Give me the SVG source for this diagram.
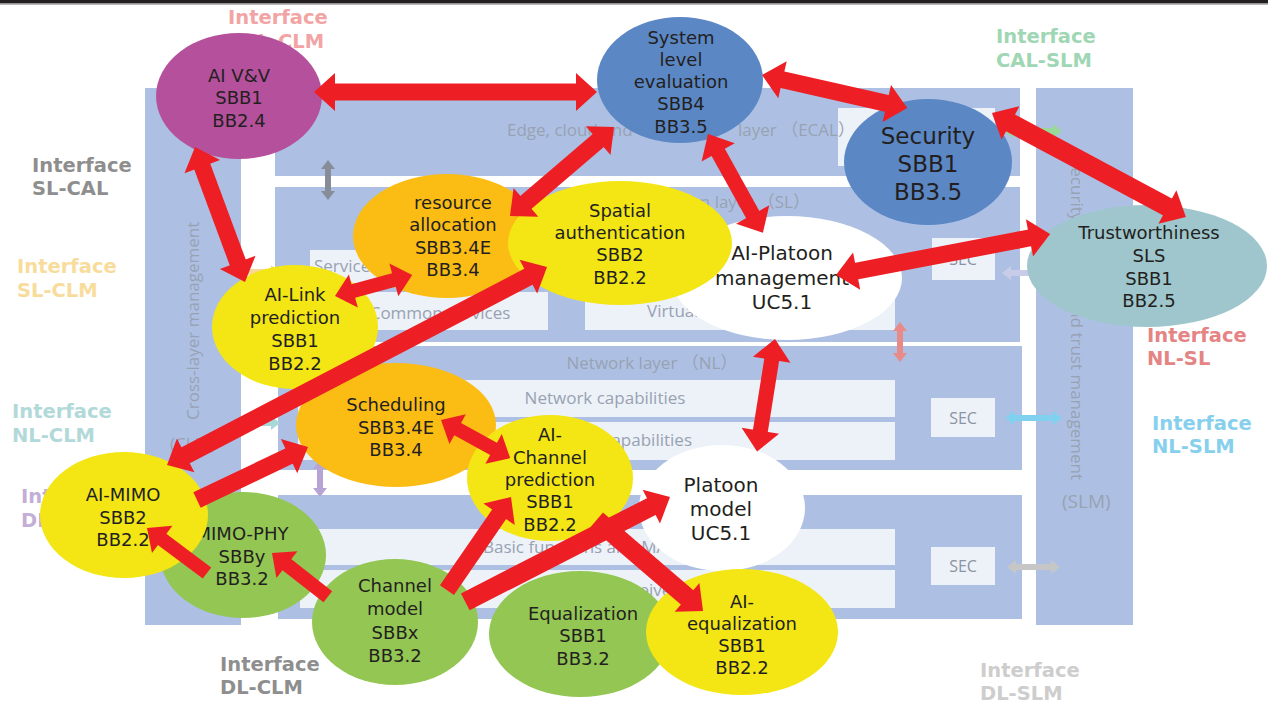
<svg xmlns="http://www.w3.org/2000/svg" width="1268" height="706" viewBox="0 0 1268 706">
<defs>
<style>
.layer{fill:#adc0e3}
.inner{fill:#edf1f8}
.ltxt{font-family:"Open Sans","Noto Sans CJK JP",sans-serif;font-size:17px;fill:#98a2b2}
.sec{font-family:"Open Sans",sans-serif;font-size:16px;fill:#8a94a4;text-anchor:middle}
.ifc{font-family:"DejaVu Sans",sans-serif;font-weight:bold;font-size:19.5px}
.node text{font-family:"DejaVu Sans",sans-serif;font-size:18px;fill:#231f20;text-anchor:middle}
.purple{fill:#b5519c}
.blue{fill:#5b87c5}
.teal{fill:#9ec6cc}
.yellow{fill:#f3e614}
.orange{fill:#fbbc14}
.green{fill:#93c653}
.white{fill:#ffffff}
.arw{fill:#ed1f24}
</style>
<path id="hd" d="M0,0 L21,-19 L21,19 Z"/>
<path id="hs" d="M0,0 L19,-17 L19,17 Z"/>
</defs>

<rect width="1268" height="706" fill="#ffffff"/>
<rect x="0" y="0" width="1268" height="3.5" fill="#231f20"/>
<rect x="0" y="3.5" width="1268" height="1.2" fill="#9a9a9a"/>

<!-- layered architecture background -->
<g id="layers">
  <rect class="layer" x="145" y="88" width="96" height="537"/>
  <rect class="layer" x="1036" y="88" width="97" height="537"/>
  <rect class="layer" x="275" y="88" width="745" height="88"/>
  <rect class="inner" x="838" y="108" width="157" height="58"/>
  <rect class="layer" x="275" y="187" width="745" height="155"/>
  <rect class="layer" x="278" y="346" width="744" height="124"/>
  <rect class="layer" x="278" y="495" width="744" height="124"/>

  <text class="ltxt" x="507" y="136">Edge, cloud and</text>
  <text class="ltxt" x="738" y="136">layer （ECAL）</text>
  <text class="ltxt" x="810" y="208" text-anchor="end">ion layer （SL）</text>
  <rect class="inner" x="310" y="250" width="238" height="33"/>
  <text class="ltxt" x="314" y="272">Service</text>
  <rect class="inner" x="345" y="292" width="203" height="38"/>
  <text class="ltxt" x="440" y="319" text-anchor="middle">Common services</text>
  <rect class="inner" x="585" y="290" width="310" height="40"/>
  <text class="ltxt" x="647" y="317">Virtual</text>
  <rect class="inner" x="932" y="238" width="63" height="42"/>
  <text class="sec" x="963" y="265">SEC</text>

  <text class="ltxt" x="652" y="369" text-anchor="middle">Network layer （NL）</text>
  <rect class="inner" x="298" y="380" width="597" height="37"/>
  <text class="ltxt" x="605" y="404" text-anchor="middle">Network capabilities</text>
  <rect class="inner" x="298" y="422" width="597" height="38"/>
  <text class="ltxt" x="692" y="446" text-anchor="end">capabilities</text>
  <rect class="inner" x="931" y="398" width="64" height="39"/>
  <text class="sec" x="963" y="424">SEC</text>

  <rect class="inner" x="300" y="529" width="595" height="36"/>
  <text class="ltxt" x="483" y="553">Basic functions and MAC</text>
  <rect class="inner" x="300" y="570" width="595" height="38"/>
  <text class="ltxt" x="587" y="596">Transceiver</text>
  <rect class="inner" x="931" y="547" width="64" height="38"/>
  <text class="sec" x="963" y="572">SEC</text>

  <text class="ltxt" transform="translate(199,420) rotate(-90)">Cross-layer management</text>
  <text class="ltxt" x="170" y="450">(CLM)</text>
  <text class="ltxt" transform="translate(1071,158) rotate(90)">Security</text>
  <text class="ltxt" transform="translate(1071,480) rotate(90)" text-anchor="end">and trust management</text>
  <text class="ltxt" x="1062" y="508" style="font-size:19px">(SLM)</text>
</g>

<!-- interface arrows between layers -->
<g id="interface-arrows">
  <polygon fill="#868d98" points="328,160 335,169 331,169 331,191 335,191 328,200 321,191 325,191 325,169 321,169"/>
  <polygon fill="#e88a88" points="900,322 907,331 903,331 903,353 907,353 900,362 893,353 897,353 897,331 893,331"/>
  <polygon fill="#80d0f0" points="1005,418 1014,411 1014,415 1053,415 1053,411 1062,418 1053,425 1053,421 1014,421 1014,425"/>
  <polygon fill="#c6c6c6" points="1007,567 1016,560 1016,564 1051,564 1051,560 1060,567 1051,574 1051,570 1016,570 1016,574"/>
  <polygon fill="#c8cce8" points="1002,273 1011,266 1011,270 1051,270 1051,266 1060,273 1051,280 1051,276 1011,276 1011,280"/>
  <polygon fill="#98d898" points="1004,131 1013,124 1013,128 1053,128 1053,124 1062,131 1053,138 1053,134 1013,134 1013,138"/>
  <polygon fill="#b8a4d4" points="320,460 327,469 323,469 323,488 327,488 320,497 313,488 317,488 317,469 313,469"/>
  <polygon fill="#a8d8d8" points="232,423 241,416 241,420 271,420 271,416 280,423 271,430 271,426 241,426 241,430"/>
  <polygon fill="#f8d898" points="232,272 241,265 241,269 271,269 271,265 280,272 271,279 271,275 241,275 241,279"/>
</g>

<!-- interface labels -->
<g id="interface-labels" class="ifc">
  <text fill="#f2a4a4" x="228" y="24">Interface</text><text fill="#f2a4a4" x="228" y="48">CAL-CLM</text>
  <text fill="#8e8e8e" x="32" y="172">Interface</text><text fill="#8e8e8e" x="32" y="195">SL-CAL</text>
  <text fill="#f8dc9c" x="17" y="273">Interface</text><text fill="#f8dc9c" x="17" y="297">SL-CLM</text>
  <text fill="#b2d9d9" x="12" y="418">Interface</text><text fill="#b2d9d9" x="12" y="442">NL-CLM</text>
  <text fill="#c3aed6" x="21" y="503">Inter</text><text fill="#c3aed6" x="21" y="527">DL-NL</text>
  <text fill="#8e8e8e" x="220" y="671">Interface</text><text fill="#8e8e8e" x="220" y="694">DL-CLM</text>
  <text fill="#9fd6b4" x="996" y="43">Interface</text><text fill="#9fd6b4" x="996" y="67">CAL-SLM</text>
  <text fill="#e48484" x="1147" y="342">Interface</text><text fill="#e48484" x="1147" y="365">NL-SL</text>
  <text fill="#86d0ee" x="1152" y="430">Interface</text><text fill="#86d0ee" x="1152" y="453">NL-SLM</text>
  <text fill="#cdcdcd" x="980" y="677">Interface</text><text fill="#cdcdcd" x="980" y="700">DL-SLM</text>
</g>

<!-- building-block nodes -->
<g id="node-ai-vv" class="node">
  <ellipse class="purple" cx="239" cy="96" rx="83" ry="63"/>
  <text x="239" y="82">AI V&amp;V</text><text x="239" y="104">SBB1</text><text x="239" y="127">BB2.4</text>
</g>
<g id="node-system-level" class="node">
  <ellipse class="blue" cx="680" cy="80" rx="83" ry="63"/>
  <text x="681" y="44">System</text><text x="681" y="66">level</text><text x="681" y="88">evaluation</text><text x="681" y="110">SBB4</text><text x="681" y="133">BB3.5</text>
</g>
<g id="node-security" class="node">
  <ellipse class="blue" cx="928" cy="162" rx="84" ry="63"/>
  <text x="928" y="144" style="font-size:23px">Security</text><text x="928" y="172" style="font-size:23px">SBB1</text><text x="928" y="200" style="font-size:23px">BB3.5</text>
</g>
<g id="node-trustworthiness" class="node">
  <ellipse class="teal" cx="1147" cy="266" rx="120" ry="61"/>
  <text x="1149" y="239">Trustworthiness</text><text x="1149" y="262">SLS</text><text x="1149" y="285">SBB1</text><text x="1149" y="307">BB2.5</text>
</g>
<g id="node-ai-platoon" class="node">
  <ellipse class="white" cx="787" cy="278" rx="115" ry="62"/>
  <text x="782" y="260" style="font-size:20px">AI-Platoon</text><text x="782" y="285" style="font-size:20px">management</text><text x="782" y="309" style="font-size:20px">UC5.1</text>
</g>
<g id="node-resource" class="node">
  <ellipse class="orange" cx="447" cy="236" rx="94" ry="62"/>
  <text x="453" y="209">resource</text><text x="453" y="231">allocation</text><text x="453" y="254">SBB3.4E</text><text x="453" y="276">BB3.4</text>
</g>
<g id="node-spatial" class="node">
  <ellipse class="yellow" cx="620" cy="243" rx="112" ry="62"/>
  <text x="620" y="217">Spatial</text><text x="620" y="239">authentication</text><text x="620" y="261">SBB2</text><text x="620" y="284">BB2.2</text>
</g>
<g id="node-ai-link" class="node">
  <ellipse class="yellow" cx="295" cy="327" rx="83" ry="62"/>
  <text x="295" y="301">AI-Link</text><text x="295" y="324">prediction</text><text x="295" y="347">SBB1</text><text x="295" y="370">BB2.2</text>
</g>
<g id="node-scheduling" class="node">
  <ellipse class="orange" cx="396" cy="425" rx="100" ry="62"/>
  <text x="396" y="411">Scheduling</text><text x="396" y="434">SBB3.4E</text><text x="396" y="456">BB3.4</text>
</g>
<g id="node-ai-channel" class="node">
  <ellipse class="yellow" cx="550" cy="478" rx="83" ry="63"/>
  <text x="550" y="441">AI-</text><text x="550" y="464">Channel</text><text x="550" y="486">prediction</text><text x="550" y="508">SBB1</text><text x="550" y="531">BB2.2</text>
</g>
<g id="node-platoon-model" class="node">
  <ellipse class="white" cx="722" cy="508" rx="83" ry="63"/>
  <text x="721" y="492" style="font-size:20px">Platoon</text><text x="721" y="516" style="font-size:20px">model</text><text x="721" y="540" style="font-size:20px">UC5.1</text>
</g>
<g id="node-mimo-phy" class="node">
  <ellipse class="green" cx="243" cy="555" rx="83" ry="63"/>
  <text x="242" y="540">MIMO-PHY</text><text x="242" y="563">SBBy</text><text x="242" y="585">BB3.2</text>
</g>
<g id="node-ai-mimo" class="node">
  <ellipse class="yellow" cx="124" cy="515" rx="84" ry="63"/>
  <text x="123" y="501">AI-MIMO</text><text x="123" y="524">SBB2</text><text x="123" y="546">BB2.2</text>
</g>
<g id="node-channel-model" class="node">
  <ellipse class="green" cx="395" cy="622" rx="83" ry="63"/>
  <text x="395" y="592">Channel</text><text x="395" y="615">model</text><text x="395" y="639">SBBx</text><text x="395" y="662">BB3.2</text>
</g>
<g id="node-equalization" class="node">
  <ellipse class="green" cx="580" cy="634" rx="91" ry="63"/>
  <text x="583" y="620">Equalization</text><text x="583" y="642">SBB1</text><text x="583" y="665">BB3.2</text>
</g>
<g id="node-ai-equalization" class="node">
  <ellipse class="yellow" cx="742" cy="632" rx="96" ry="63"/>
  <text x="742" y="608">AI-</text><text x="742" y="630">equalization</text><text x="742" y="652">SBB1</text><text x="742" y="674">BB2.2</text>
</g>

<!-- red block arrows between building blocks -->
<g id="connectors" class="arw">
  <g transform="translate(314,92)"><use href="#hd"/><rect x="20" y="-8.5" width="243" height="17"/><use href="#hd" transform="translate(283,0) scale(-1,1)"/></g>
  <g transform="translate(195,147) rotate(69.68)"><use href="#hd"/><rect x="20" y="-8.5" width="104" height="17"/><use href="#hd" transform="translate(144,0) scale(-1,1)"/></g>
  <g transform="translate(335,296) rotate(-15.26)"><use href="#hs"/><rect x="18" y="-7" width="44" height="14"/><use href="#hs" transform="translate(80,0) scale(-1,1)"/></g>
  <g transform="translate(167,465) rotate(-27.52)"><use href="#hd"/><rect x="20" y="-9" width="388.5" height="18"/><use href="#hd" transform="translate(428.5,0) scale(-1,1)"/></g>
  <g transform="translate(308,447) rotate(154.48)"><use href="#hd"/><rect x="20" y="-8.5" width="103" height="17"/></g>
  <g transform="translate(441,420) rotate(28.84)"><use href="#hs"/><rect x="18" y="-7" width="43" height="14"/><use href="#hs" transform="translate(79,0) scale(-1,1)"/></g>
  <g transform="translate(511,497) rotate(124.53)"><use href="#hd"/><rect x="20" y="-8.5" width="93" height="17"/></g>
  <g transform="translate(670,497) rotate(152.88)"><use href="#hd"/><rect x="20" y="-9.5" width="210" height="19"/></g>
  <g transform="translate(703,611) rotate(-139.35)"><use href="#hd"/><rect x="20" y="-9.5" width="120" height="19"/></g>
  <g transform="translate(147,528) rotate(36.87)"><use href="#hs"/><rect x="18" y="-7" width="57" height="14"/></g>
  <g transform="translate(272,553) rotate(38.16)"><use href="#hs"/><rect x="18" y="-7" width="53" height="14"/></g>
  <g transform="translate(510,216) rotate(-40.56)"><use href="#hd"/><rect x="20" y="-8.5" width="97" height="17"/><use href="#hd" transform="translate(137,0) scale(-1,1)"/></g>
  <g transform="translate(708,134) rotate(60.94)"><use href="#hd"/><rect x="20" y="-7.5" width="73" height="15"/><use href="#hd" transform="translate(113,0) scale(-1,1)"/></g>
  <g transform="translate(762,75) rotate(12.82)"><use href="#hd"/><rect x="20" y="-8.5" width="109" height="17"/><use href="#hd" transform="translate(149,0) scale(-1,1)"/></g>
  <g transform="translate(992,113) rotate(28.19)"><use href="#hd"/><rect x="20" y="-9.5" width="180" height="19"/><use href="#hd" transform="translate(220,0) scale(-1,1)"/></g>
  <g transform="translate(836,275) rotate(-10.85)"><use href="#hd"/><rect x="20" y="-8.5" width="178" height="17"/><use href="#hd" transform="translate(218,0) scale(-1,1)"/></g>
  <g transform="translate(775,339) rotate(99.05)"><use href="#hd"/><rect x="20" y="-7.5" width="74" height="15"/><use href="#hd" transform="translate(114,0) scale(-1,1)"/></g>
</g>
</svg>
